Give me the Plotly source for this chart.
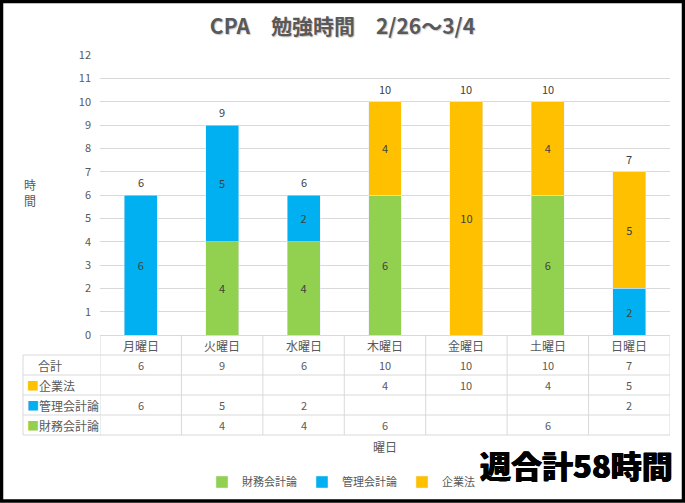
import plotly.graph_objects as go

# データ
days = ["月曜日", "火曜日", "水曜日", "木曜日", "金曜日", "土曜日", "日曜日"]
zaimu = [None, 4, 4, 6, None, 6, None]      # 財務会計論
kanri = [6, 5, 2, None, None, None, 2]      # 管理会計論
kigyo = [None, None, None, 4, 10, 4, 5]     # 企業法
totals = [6, 9, 6, 10, 10, 10, 7]
y_ticks = list(range(0, 13))

FONT = "Noto Sans CJK JP"
GRAY = "#595959"
GRID = "#D9D9D9"

W, H = 685, 503
L, R, T, B = 100, 15, 55, 168
pw, ph = W - L - R, H - T - B


def px(x):
    return (x - L) / pw


def py(y):
    return (H - B - y) / ph


series = [
    ("財務会計論", zaimu, "#92D050"),
    ("管理会計論", kanri, "#00B0F0"),
    ("企業法", kigyo, "#FFC000"),
]

fig = go.Figure()
for name, vals, color in series:
    fig.add_trace(go.Bar(
        x=days, y=vals, name=name, marker_color=color,
        text=[v if v else "" for v in vals],
        textposition="inside", insidetextanchor="middle", textangle=0,
        textfont=dict(size=11, color="#404040", family=FONT),
    ))


def note(text, x, y, xref="paper", yref="paper", xanchor="center", size=11, color=GRAY, **kw):
    return dict(text=text, x=x, y=y, xref=xref, yref=yref, xanchor=xanchor,
                yanchor="middle", showarrow=False,
                font=dict(size=size, color=color, family=FONT, **kw))


annotations = []
# 合計ラベル（棒の上）
for d, t in zip(days, totals):
    a = note(str(t), d, t, xref="x", yref="y", color="#404040")
    a["yshift"] = 13
    annotations.append(a)

# データテーブル
rows = [("合計", totals, None), ("企業法", kigyo, "#FFC000"),
        ("管理会計論", kanri, "#00B0F0"), ("財務会計論", zaimu, "#92D050")]
for d in days:
    annotations.append(note(d, d, py(345), xref="x", size=12))
for i, (label, vals, color) in enumerate(rows):
    yc = py(365 + 20 * i)
    if color:
        annotations.append(note(f'<span style="color:{color}">■</span>{label}',
                                px(25), yc, xanchor="left", size=12))
    else:
        annotations.append(note(label, px(36), yc, xanchor="left", size=12))
    for d, v in zip(days, vals):
        if v:
            annotations.append(note(str(v), d, yc, xref="x"))

# 軸タイトル
annotations.append(note("曜日", 0.5, py(446), size=12))
annotations.append(note("時<br>間", px(30), py(192), size=12))
# 週合計
annotations.append(note("週合計58時間", px(576), py(464), size=31, color="black", weight=900,
                        shadow="0.5px 0 0 #000, -0.5px 0 0 #000"))

shapes = []
# テーブル罫線
for k in range(5):
    yy = py(355 + 20 * k)
    shapes.append(dict(type="line", xref="paper", yref="paper", x0=px(23), x1=1,
                       y0=yy, y1=yy, line=dict(color=GRID, width=1)))
shapes.append(dict(type="line", xref="paper", yref="paper", x0=px(23), x1=px(23),
                   y0=py(355), y1=py(435), line=dict(color=GRID, width=1)))
for k in range(len(days) + 1):
    shapes.append(dict(type="line", xref="x", yref="paper", x0=k - 0.5, x1=k - 0.5,
                       y0=0, y1=py(435), line=dict(color=GRID, width=1)))
# 外枠
shapes.append(dict(type="rect", xref="paper", yref="paper",
                   x0=px(1.5), x1=px(683.5), y0=py(501), y1=py(1.5),
                   line=dict(color="black", width=3.5), layer="above"))

fig.update_layout(
    width=W, height=H, autosize=False,
    margin=dict(l=L, r=R, t=T, b=B),
    paper_bgcolor="white", plot_bgcolor="white",
    barmode="stack", bargap=0.595,
    title=dict(text="CPA　勉強時間　2/26～3/4", x=0.5, xref="container", xanchor="center",
               y=1 - 27 / H, yref="container", yanchor="middle",
               font=dict(size=21, color=GRAY, family=FONT, weight="bold",
                         shadow="1px 1px 1px #c8c8c8")),
    xaxis=dict(showticklabels=False, showgrid=False, showline=True, linecolor=GRID,
               ticks="", range=[-0.5, 6.5]),
    yaxis=dict(range=[0, 12], tickvals=y_ticks, gridcolor=GRID, zeroline=False,
               showline=False, ticks="", ticklabelstandoff=8,
               tickfont=dict(size=11, color=GRAY, family=FONT)),
    legend=dict(orientation="h", xref="container", x=341 / W, xanchor="center",
                yref="container", y=1 - 482 / H, yanchor="middle",
                font=dict(size=11, color=GRAY, family=FONT), traceorder="normal",
                itemwidth=30),
    annotations=annotations, shapes=shapes,
    font=dict(family=FONT, color=GRAY),
)

fig.write_html("out.html", config={"displayModeBar": False},
               post_script="document.body.style.margin='0';")
